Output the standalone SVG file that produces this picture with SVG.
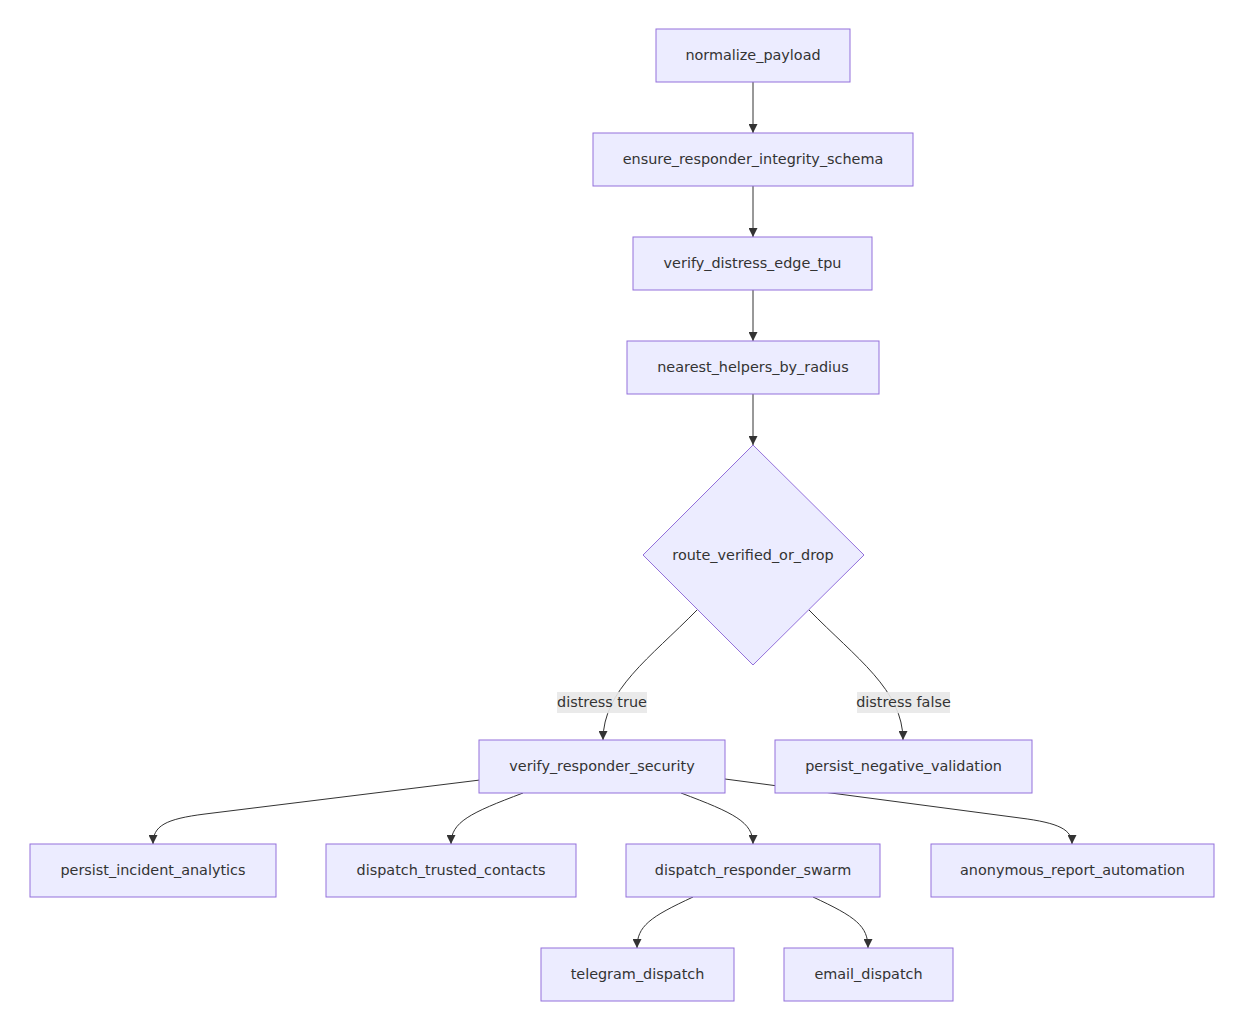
<svg xmlns="http://www.w3.org/2000/svg" width="1238" height="1020" viewBox="0 0 1238 1020">
<style>
.n rect,.n polygon{fill:#ECECFF;stroke:#9370DB;stroke-width:1}
text{font-family:"DejaVu Sans",Verdana,sans-serif;font-size:14.4px;fill:#333;text-anchor:middle;dominant-baseline:central}
.e path{fill:none;stroke:#333;stroke-width:1;marker-end:url(#arr)}
.lb rect{fill:#e8e8e8;fill-opacity:0.9}
</style>
<defs>
<marker id="arr" viewBox="0 0 10 10" refX="10" refY="5" markerWidth="9" markerHeight="9" markerUnits="userSpaceOnUse" orient="auto"><path d="M0,0 L10,5 L0,10 z" fill="#333"/></marker>
</defs>
<g id="edges" class="e">
<path d="M753,82 L753,133"/>
<path d="M753,186 L753,237"/>
<path d="M753,290 L753,341"/>
<path d="M753,394 L753,445"/>
<path d="M697,610 C650,658 603,690 603,740"/>
<path d="M809,610 C856,658 903,690 903,740"/>
<path d="M480,780 L205,814 C165,819 153,826 153,844"/>
<path d="M523,793 C470,813 451,822 451,844"/>
<path d="M681,793 C734,813 753,822 753,844"/>
<path d="M725,779 L1020,818 C1060,823 1072,830 1072,844"/>
<path d="M693,897 C650,917 637,926 637,948"/>
<path d="M813,897 C856,917 868,926 868,948"/>
</g>
<g id="edge-labels" class="lb">
<rect x="557" y="692" width="90" height="21"/><text x="602" y="702">distress true</text>
<rect x="857" y="692" width="93" height="21"/><text x="903.5" y="702">distress false</text>
</g>
<g id="normalize_payload" class="n"><rect x="656" y="29" width="194" height="53"/><text x="753" y="55">normalize_payload</text></g>
<g id="ensure_responder_integrity_schema" class="n"><rect x="593" y="133" width="320" height="53"/><text x="753" y="159">ensure_responder_integrity_schema</text></g>
<g id="verify_distress_edge_tpu" class="n"><rect x="633" y="237" width="239" height="53"/><text x="752.5" y="263">verify_distress_edge_tpu</text></g>
<g id="nearest_helpers_by_radius" class="n"><rect x="627" y="341" width="252" height="53"/><text x="753" y="367">nearest_helpers_by_radius</text></g>
<g id="route_verified_or_drop" class="n"><polygon points="753,445 864,555 753,665 643,555"/><text x="753" y="554.5">route_verified_or_drop</text></g>
<g id="verify_responder_security" class="n"><rect x="479" y="740" width="246" height="53"/><text x="602" y="766">verify_responder_security</text></g>
<g id="persist_negative_validation" class="n"><rect x="775" y="740" width="257" height="53"/><text x="903.5" y="766">persist_negative_validation</text></g>
<g id="persist_incident_analytics" class="n"><rect x="30" y="844" width="246" height="53"/><text x="153" y="870">persist_incident_analytics</text></g>
<g id="dispatch_trusted_contacts" class="n"><rect x="326" y="844" width="250" height="53"/><text x="451" y="870">dispatch_trusted_contacts</text></g>
<g id="dispatch_responder_swarm" class="n"><rect x="626" y="844" width="254" height="53"/><text x="753" y="870">dispatch_responder_swarm</text></g>
<g id="anonymous_report_automation" class="n"><rect x="931" y="844" width="283" height="53"/><text x="1072.5" y="870">anonymous_report_automation</text></g>
<g id="telegram_dispatch" class="n"><rect x="541" y="948" width="193" height="53"/><text x="637.5" y="974">telegram_dispatch</text></g>
<g id="email_dispatch" class="n"><rect x="784" y="948" width="169" height="53"/><text x="868.5" y="974">email_dispatch</text></g>
</svg>
